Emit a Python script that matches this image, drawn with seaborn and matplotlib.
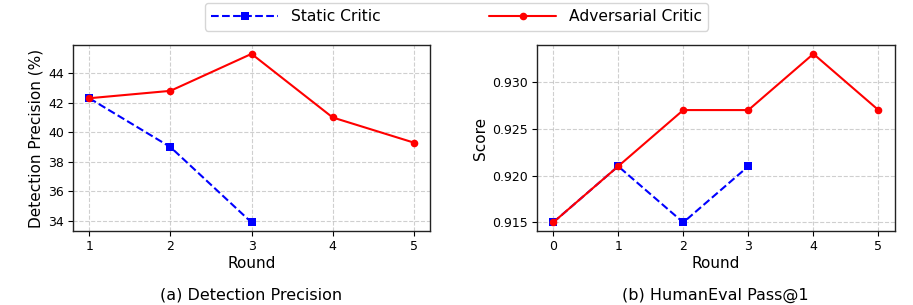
import matplotlib
matplotlib.use("Agg")
import matplotlib.pyplot as plt
import seaborn as sns


# (a) Detection Precision
prec_static_rounds = [1, 2, 3]
prec_static = [42.3, 39.0, 33.9]
prec_adv_rounds = [1, 2, 3, 4, 5]
prec_adv = [42.3, 42.8, 45.3, 41.0, 39.3]

# (b) HumanEval Pass@1
he_static_rounds = [0, 1, 2, 3]
he_static = [0.915, 0.921, 0.915, 0.921]
he_adv_rounds = [0, 1, 2, 3, 4, 5]
he_adv = [0.915, 0.921, 0.927, 0.927, 0.933, 0.927]

captions = ["(a) Detection Precision", "(b) HumanEval Pass@1"]
ylabels = ["Detection Precision (%)", "Score"]


def _draw(ax, s_x, s_y, a_x, a_y, ylabel):
  sns.lineplot(x=s_x, y=s_y, color="blue", linestyle="--", marker="s",
               markersize=5.5, markeredgewidth=0, linewidth=1.5,
               label="Static Critic", ax=ax, legend=False)
  sns.lineplot(x=a_x, y=a_y, color="red", linestyle="-", marker="o",
               markersize=5.5, markeredgewidth=0, linewidth=1.5,
               label="Adversarial Critic", ax=ax, legend=False)
  ax.grid(True, linestyle="--", color="#b0b0b0", alpha=0.6, linewidth=0.8)
  ax.set_xlabel("Round", fontsize=11, labelpad=2)
  ax.set_ylabel(ylabel, fontsize=11, labelpad=3)
  ax.tick_params(labelsize=9, length=3.5, width=0.8, pad=3)
  for sp in ax.spines.values():
    sp.set_color("#222222")
    sp.set_linewidth(1.0)


def main() -> None:
  sns.set_theme(style="ticks")
  plt.rcParams["font.family"] = ["DejaVu Sans"]
  plt.rcParams["text.color"] = "black"
  plt.rcParams["axes.labelcolor"] = "black"
  plt.rcParams["xtick.color"] = "black"
  plt.rcParams["ytick.color"] = "black"

  fig = plt.figure(figsize=(9.13, 3.05), dpi=100)
  ax1 = fig.add_axes([0.080, 0.243, 0.391, 0.608])
  ax2 = fig.add_axes([0.588, 0.243, 0.392, 0.608])

  _draw(ax1, prec_static_rounds, prec_static, prec_adv_rounds, prec_adv, ylabels[0])
  ax1.set_yticks([34, 36, 38, 40, 42, 44])
  ax1.set_xticks(prec_adv_rounds)

  _draw(ax2, he_static_rounds, he_static, he_adv_rounds, he_adv, ylabels[1])
  ax2.set_yticks([0.915, 0.920, 0.925, 0.930])
  ax2.set_yticklabels(["0.915", "0.920", "0.925", "0.930"])
  ax2.set_xticks(he_adv_rounds)

  fig.text(0.2755, 0.008, captions[0], ha="center", va="bottom", fontsize=11.5)
  fig.text(0.784, 0.008, captions[1], ha="center", va="bottom", fontsize=11.5)

  handles, labels = ax1.get_legend_handles_labels()
  fig.legend(handles, labels, loc="upper center", bbox_to_anchor=(0.5, 0.995),
             ncol=2, fontsize=11.2, handlelength=4.3, columnspacing=7.0,
             borderpad=0.4, borderaxespad=0.1, frameon=True,
             edgecolor="#cccccc", fancybox=True)

  fig.savefig("out.png", dpi=100)
  plt.close(fig)


if __name__ == "__main__":
  main()
